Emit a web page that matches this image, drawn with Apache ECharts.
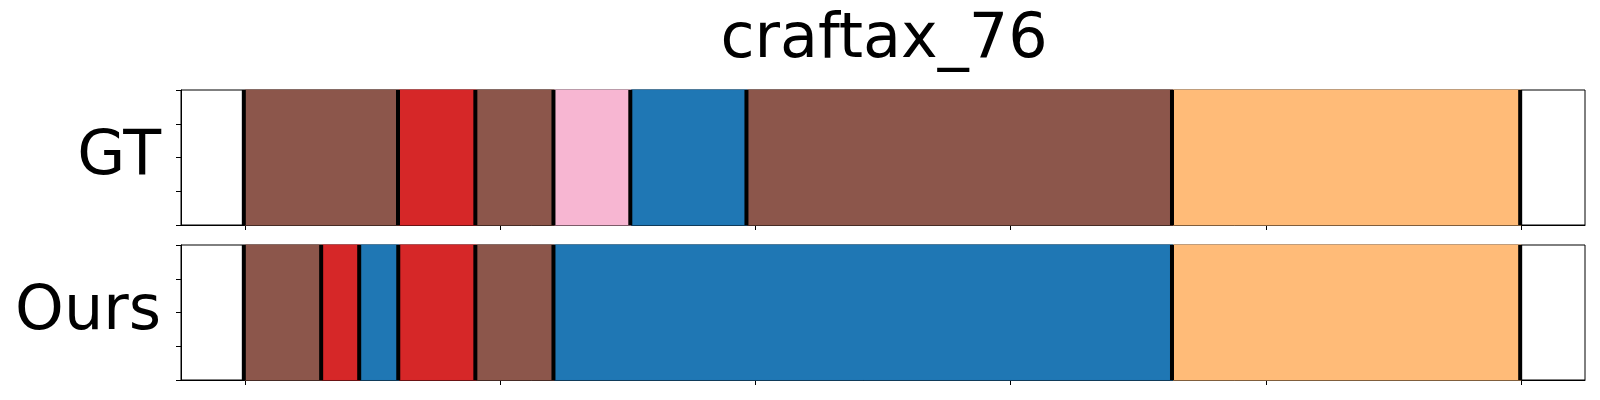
<!DOCTYPE html>
<html>
<head>
<meta charset="utf-8">
<script src="https://cdn.jsdelivr.net/npm/echarts@6/dist/echarts.min.js"></script>
<style>html,body{margin:0;padding:0;background:#fff;}#c{width:1600px;height:400px;}</style>
</head>
<body>
<div id="c"></div>
<script>
const titleText = 'craftax_76';
const rowNames = ['GT', 'Ours'];
const xTicks = [0, 100, 200, 300, 400, 500];
const yTicks = [0, 0.25, 0.5, 0.75, 1];
// segment boundaries (frames) and class ids for each segment
const gtBounds = [0, 60.4, 90.7, 121.3, 151.4, 196.9, 363.6, 500];
const gtClasses = ['brown', 'red', 'brown', 'pink', 'blue', 'brown', 'orange'];
const oursBounds = [0, 30.3, 45.2, 60.5, 90.7, 121.3, 363.6, 500];
const oursClasses = ['brown', 'red', 'blue', 'red', 'brown', 'blue', 'orange'];

const palette = {brown:'#8c564b', red:'#d62728', pink:'#f7b6d2', blue:'#1f77b4', orange:'#ffbb78'};
const FONT = 'DejaVu Sans';

function segData(bounds, classes){
  const out = [];
  for (let i = 0; i < classes.length; i++) out.push([bounds[i], bounds[i+1], classes[i]]);
  return out;
}

const chart = echarts.init(document.getElementById('c'), null, {renderer:'canvas'});
const grids = [
  {left:181, top:90, width:1404, height:135, show:true, borderColor:'#000', borderWidth:1},
  {left:181, top:245, width:1404, height:135, show:true, borderColor:'#000', borderWidth:1}
];
const xAxes = [0,1].map(i => ({
  gridIndex:i, type:'value', min:-25, max:525,
  axisLine:{show:true, onZero:false, lineStyle:{color:'#000', width:1}},
  axisTick:{show:true, length:5, customValues:xTicks, lineStyle:{color:'#000', width:1}},
  axisLabel:{show:false, customValues:xTicks},
  splitLine:{show:false}
}));
const yAxes = [0,1].map(i => ({
  gridIndex:i, type:'value', min:0, max:1, interval:0.25,
  axisLine:{show:true, onZero:false, lineStyle:{color:'#000', width:1}},
  axisTick:{show:true, length:5, customValues:yTicks, lineStyle:{color:'#000', width:1}},
  axisLabel:{show:false},
  splitLine:{show:false},
  name: rowNames[i], nameLocation:'middle', nameRotate:0, nameGap:20,
  nameTextStyle:{fontSize:62, color:'#000', fontFamily:FONT, align:'right', verticalAlign:'middle'}
}));

function segSeries(i, data){
  return {
    type:'custom', xAxisIndex:i, yAxisIndex:i, z:2, silent:true,
    data:data,
    renderItem:function(params, api){
      const p0 = api.coord([api.value(0), 1]);
      const p1 = api.coord([api.value(1), 0]);
      const cls = data[params.dataIndex][2];
      return {type:'rect', shape:{x:p0[0], y:p0[1], width:p1[0]-p0[0], height:p1[1]-p0[1]},
        style:{fill:palette[cls], stroke:palette[cls], lineWidth:1}};
    }
  };
}
function boundSeries(i, bounds){
  return {
    type:'custom', xAxisIndex:i, yAxisIndex:i, z:3, silent:true,
    data:bounds.map(b => [b]),
    renderItem:function(params, api){
      const a = api.coord([api.value(0), 0]);
      const b = api.coord([api.value(0), 1]);
      return {type:'line', shape:{x1:a[0]-1, y1:a[1], x2:b[0]-1, y2:b[1]},
        style:{stroke:'#000', lineWidth:4}};
    }
  };
}

chart.setOption({
  animation:false,
  backgroundColor:'#fff',
  title:{text:titleText, left:879, textAlign:'center', top:5,
    textStyle:{fontSize:62, fontWeight:'normal', color:'#000', fontFamily:FONT}},
  grid:grids, xAxis:xAxes, yAxis:yAxes,
  series:[
    segSeries(0, segData(gtBounds, gtClasses)),
    boundSeries(0, gtBounds),
    segSeries(1, segData(oursBounds, oursClasses)),
    boundSeries(1, oursBounds)
  ]
});
</script>
</body>
</html>
